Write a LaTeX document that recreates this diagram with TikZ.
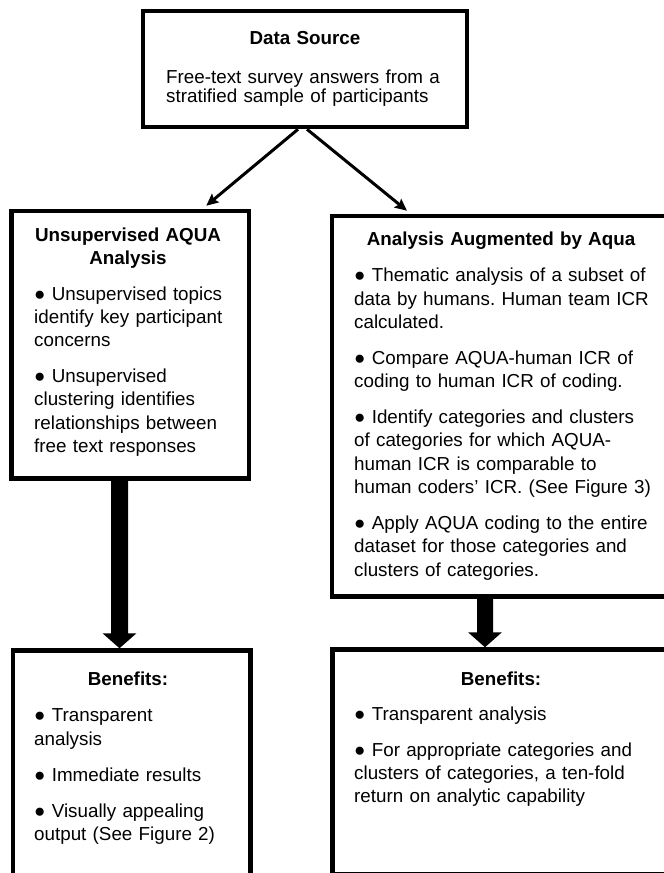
\documentclass[tikz,border=0pt]{standalone}
\usepackage{fontspec}
\setmainfont{Liberation Sans}
\usetikzlibrary{arrows.meta,calc}
\frenchspacing
\begin{document}
\begin{tikzpicture}[x=1pt,y=-1pt,
  box/.style={draw,line width=4.5pt,inner sep=0pt},
  ttl/.style={font=\fontsize{18.8pt}{22.3pt}\selectfont\bfseries,anchor=base,inner sep=0pt,align=center,text width=300pt},
  body/.style={font=\fontsize{18.8pt}{23.3pt}\selectfont\frenchspacing,anchor=base west,inner sep=0pt,align=left,text width=320pt},
  conn/.style={line width=3pt,-{Stealth[length=12pt,width=11pt,inset=2pt]}},
  bigarrow/.style={fill=black}]
\useasboundingbox (0,0) rectangle (664,873);
\clip (0,0) rectangle (664,873);
\fill[white] (0,0) rectangle (664,873);

% boxes
\node[box,minimum width=324pt,minimum height=116pt] (top) at (305,69) {};
\node[box,minimum width=237.5pt,minimum height=267.5pt] (leftbox) at (130.25,344.75) {};
\node[box,minimum width=338pt,minimum height=380.5pt] (rightbox) at (501,406.25) {};
\node[box,minimum width=237.5pt,minimum height=249.5pt] (botleft) at (131.75,775.25) {};
\node[box,minimum width=337.5pt,minimum height=225pt] (botright) at (501.25,762) {};

% texts
\node[ttl] (toptitle) at (305,44) {Data Source};
\node[body,font=\fontsize{18.8pt}{19.5pt}\selectfont] (topbody) at (166,83) {Free-text survey answers from a\\stratified sample of participants};

\node[ttl] (lefttitle) at (128,241.7) {Unsupervised AQUA\\Analysis};
\node[body] (leftbody) at (34,300) {● Unsupervised topics\\identify key participant\\concerns\\[12.7pt]● Unsupervised\\clustering identifies\\relationships between\\free text responses};

\node[ttl] (righttitle) at (501,245) {Analysis Augmented by Aqua};
\node[body] (rightbody) at (354,281.7) {● Thematic analysis of a subset of\\data by humans. Human team ICR\\calculated.\\[12.7pt]● Compare AQUA-human ICR of\\coding to human ICR of coding.\\[12.7pt]● Identify categories and clusters\\of categories for which AQUA-\\human ICR is comparable to\\human coders’ ICR. (See Figure 3)\\[12.7pt]● Apply AQUA coding to the entire\\dataset for those categories and\\clusters of categories.};

\node[ttl] (blttitle) at (128,685) {Benefits:};
\node[body] (bltbody) at (34,721.7) {● Transparent\\analysis\\[12.7pt]● Immediate results\\[12.7pt]● Visually appealing\\output (See Figure 2)};

\node[ttl] (brttitle) at (501,685) {Benefits:};
\node[body] (brtbody) at (354,720) {● Transparent analysis\\[12.7pt]● For appropriate categories and\\clusters of categories, a ten-fold\\return on analytic capability};

% thin connectors
\draw[conn] ([xshift=-7pt]top.south) -- ([xshift=76pt,yshift=3pt]leftbox.north);
\draw[conn] ([xshift=2pt]top.south) -- ([xshift=-94pt,yshift=3pt]rightbox.north);

% thick arrows
\fill[bigarrow] let \p1=(leftbox.south), \p2=(botleft.north) in
  (\x1-19.25pt,\y1) -- (\x1-2.25pt,\y1) -- (\x1-2.25pt,\y2+15pt) -- (\x1+6.25pt,\y2+15pt)
  -- (\x1-10.75pt,\y2) -- (\x1-27.75pt,\y2+15pt) -- (\x1-19.25pt,\y2+15pt) -- cycle;
\fill[bigarrow] let \p1=(rightbox.south), \p2=(botright.north) in
  (\x1-24pt,\y1) -- (\x1-8pt,\y1) -- (\x1-8pt,\y2+15pt) -- (\x1+1pt,\y2+15pt)
  -- (\x1-16pt,\y2) -- (\x1-33pt,\y2+15pt) -- (\x1-24pt,\y2+15pt) -- cycle;
\end{tikzpicture}
\end{document}
